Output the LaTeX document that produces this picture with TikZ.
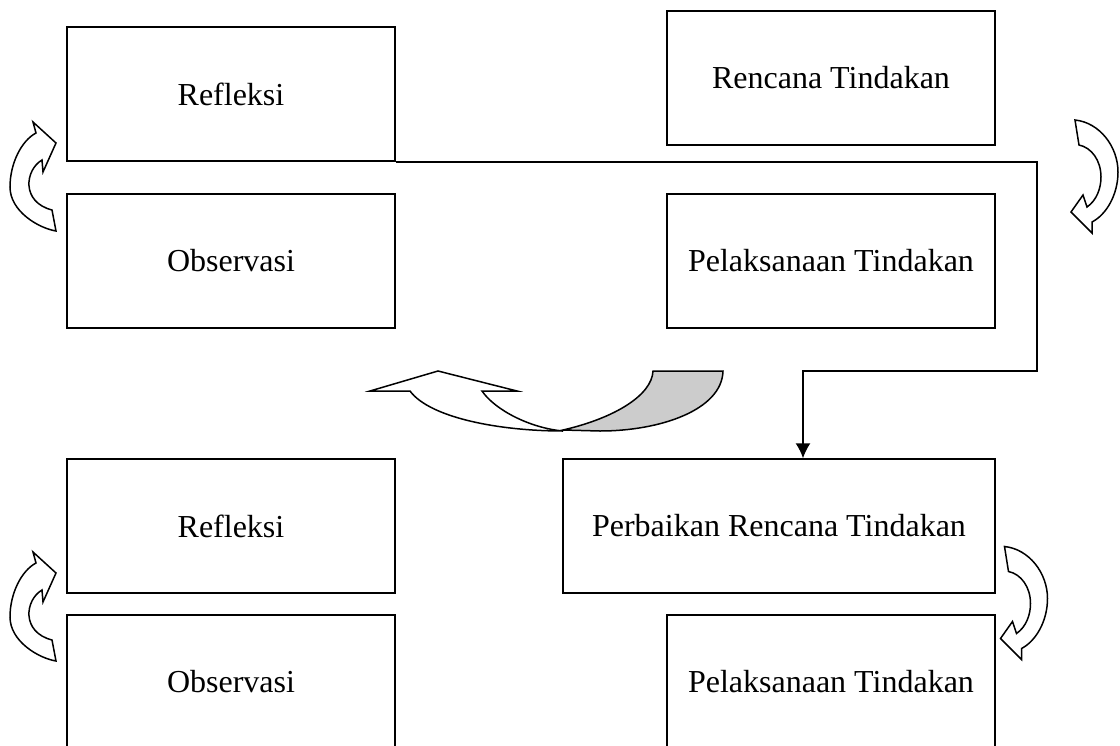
\documentclass[tikz,border=0pt]{standalone}
\usepackage{fontspec}
\setmainfont{Liberation Serif}
\usetikzlibrary{arrows.meta}
\definecolor{backshade}{RGB}{204,204,204}

\begin{document}
\begin{tikzpicture}[x=0.5pt,y=-0.5pt,line width=0.75pt,
    box/.style={draw,rectangle,minimum width=164pt,minimum height=67pt,
      inner sep=0pt,font=\fontsize{16}{19}\selectfont},
    widebox/.style={box,minimum width=216pt},
    % arrow turning down on the right side
    right turn/.pic={
      \draw[fill=white] (-19.5,-56.5) .. controls (5,-54) and (23.5,-30) .. (23.5,-4.5)
        .. controls (23.5,18) and (12,38) .. (-2.5,45.5) -- (-2.5,56.5) -- (-23.5,35.5)
        -- (-11.5,18.5) -- (-7.5,30.5) .. controls (2,24) and (6.5,12) .. (6.5,0.5)
        .. controls (6.5,-16) and (-3,-29) .. (-15.5,-31.5) -- cycle;
    },
    % arrow turning up on the left side
    left turn/.pic={
      \draw[fill=white] (0,-54) -- (23,-33) -- (10,-4) -- (9,-16)
        .. controls (-8,-6) and (-12,26) .. (19,34) -- (23,55)
        .. controls (5,52) and (-23,35) .. (-23,11)
        .. controls (-23,-12) and (-12,-35) .. (3,-43) -- cycle;
    }]
    \useasboundingbox (0,0) rectangle (1120,745);
    \clip (0,0) rectangle (1120,745);

    % First cycle
    \node[box] (refl1) at (231,94)  {Refleksi};
    \node[box] (renc)  at (831,78)  {Rencana Tindakan};
    \node[box] (obs1)  at (231,261) {Observasi};
    \node[box] (pel1)  at (831,261) {Pelaksanaan Tindakan};

    % Second cycle
    \node[box]     (refl2) at (231,526) {Refleksi};
    \node[widebox] (perb)  at (779,526) {Perbaikan Rencana Tindakan};
    \node[box]     (obs2)  at (231,682) {Observasi};
    \node[box]     (pel2)  at (831,682) {Pelaksanaan Tindakan};

    % Elbow connector into the next cycle
    \coordinate (bend) at (1037,371);
    \draw[-{Latex[length=7.5pt,width=7.5pt]}] (refl1.south east) -| (bend)
      -| ([xshift=12pt]perb.north);

    % Curved side arrows
    \pic at (1094.5,176.5) {right turn};
    \pic at (1024,603) {right turn};
    \pic at (33,176) {left turn};
    \pic at (33,606) {left turn};

    % Big curved arrow, back face then front face
    \draw[fill=backshade] (563,430) .. controls (615,418) and (652,395) .. (653,371)
      -- (723,371) .. controls (722,410) and (660,431) .. (600,431) -- cycle;
    \draw[fill=white] (410,391) .. controls (430,418) and (500,431) .. (563,431)
      .. controls (530,428) and (495,410) .. (482,391) -- (517,391) -- (438,371)
      -- (370,391) -- cycle;
\end{tikzpicture}
\end{document}
